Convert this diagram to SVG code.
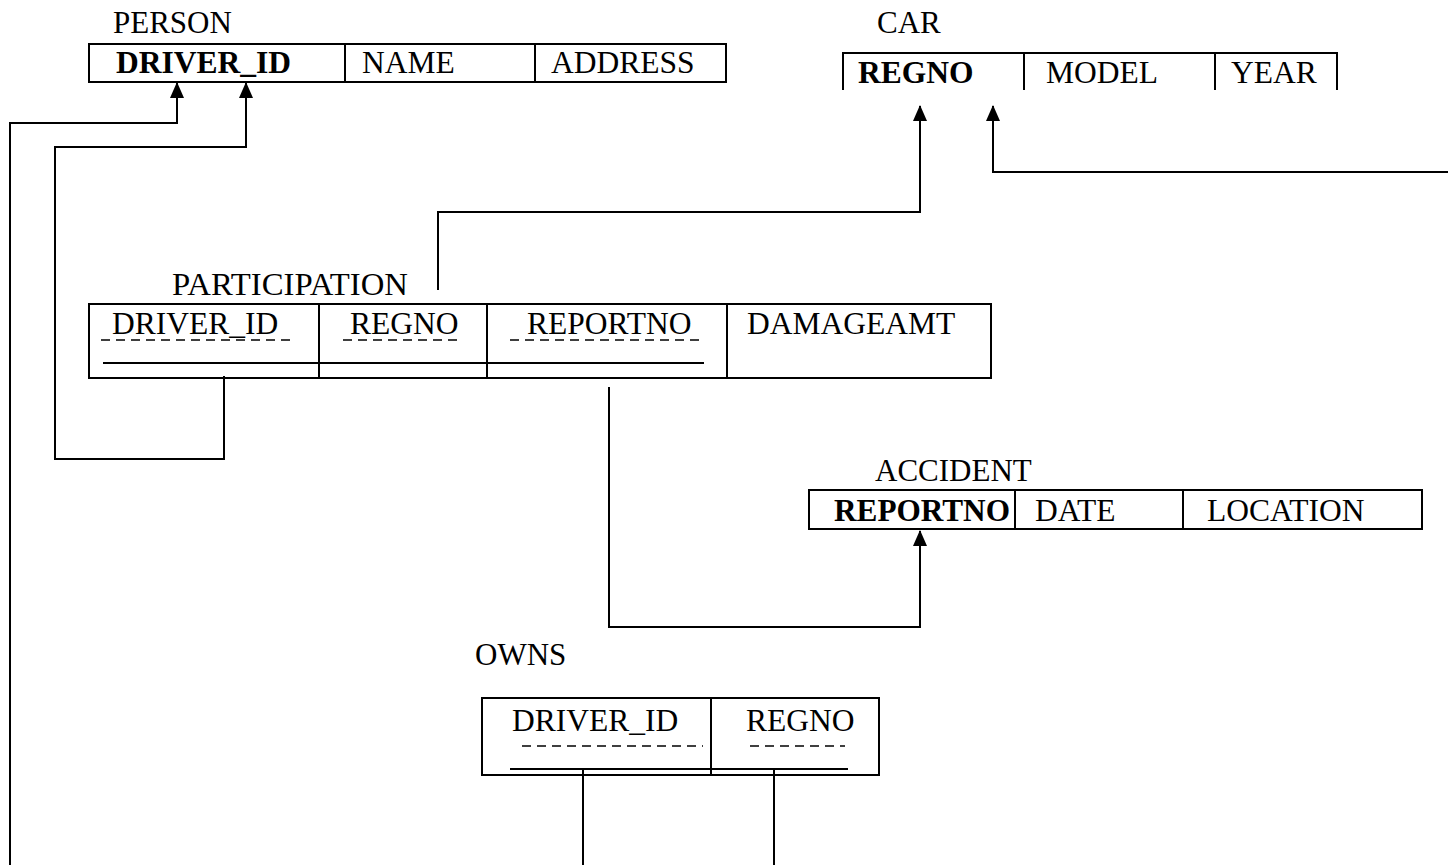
<svg xmlns="http://www.w3.org/2000/svg" width="1448" height="865" viewBox="0 0 1448 865">
<defs>
<marker id="arr" viewBox="0 0 16 14" refX="15" refY="7" markerWidth="16" markerHeight="14" markerUnits="userSpaceOnUse" orient="auto">
<path d="M0,0 L16,7 L0,14 Z" fill="#000"/>
</marker>
</defs>
<style>
text{font-family:"Liberation Serif","Times New Roman",serif;font-size:31.5px;fill:#000}
.lbl{font-size:31px}
.b{font-weight:bold;font-size:31.5px}
.box{fill:none;stroke:#000;stroke-width:2}
.ln{fill:none;stroke:#000;stroke-width:2}
.dash{fill:none;stroke:#000;stroke-width:1.5;stroke-dasharray:9,6}
.c{fill:none;stroke:#000;stroke-width:2}
</style>
<rect width="1448" height="865" fill="#fff"/>

<g id="person">
<text class="lbl" x="113" y="33">PERSON</text>
<rect class="box" x="89" y="44" width="637" height="38"/>
<line class="ln" x1="345" y1="44" x2="345" y2="82"/>
<line class="ln" x1="535" y1="44" x2="535" y2="82"/>
<text class="b" x="116" y="73">DRIVER_ID</text>
<text x="362" y="73">NAME</text>
<text x="551" y="73">ADDRESS</text>
</g>

<g id="car">
<text class="lbl" x="877" y="33">CAR</text>
<path class="ln" d="M843,90 V53 H1337 V90"/>
<line class="ln" x1="1024" y1="53" x2="1024" y2="90"/>
<line class="ln" x1="1215" y1="53" x2="1215" y2="90"/>
<text class="b" x="858" y="83">REGNO</text>
<text x="1046" y="83">MODEL</text>
<text x="1231" y="83">YEAR</text>
</g>

<g id="participation">
<text class="lbl" x="172" y="295" textLength="236" lengthAdjust="spacingAndGlyphs">PARTICIPATION</text>
<rect class="box" x="89" y="304" width="902" height="74"/>
<line class="ln" x1="319" y1="304" x2="319" y2="378"/>
<line class="ln" x1="487" y1="304" x2="487" y2="378"/>
<line class="ln" x1="727" y1="304" x2="727" y2="378"/>
<text x="112" y="334">DRIVER_ID</text>
<text x="350" y="334">REGNO</text>
<text x="527" y="334">REPORTNO</text>
<text x="747" y="334">DAMAGEAMT</text>
<line class="dash" x1="101" y1="340" x2="296" y2="340"/>
<line class="dash" x1="343" y1="340" x2="463" y2="340"/>
<line class="dash" x1="510" y1="340" x2="705" y2="340"/>
<line class="ln" x1="103" y1="363" x2="704" y2="363"/>
</g>

<g id="accident">
<text class="lbl" x="875" y="481">ACCIDENT</text>
<rect class="box" x="809" y="490" width="613" height="39"/>
<line class="ln" x1="1015" y1="490" x2="1015" y2="529"/>
<line class="ln" x1="1183" y1="490" x2="1183" y2="529"/>
<text class="b" x="834" y="521" textLength="176" lengthAdjust="spacingAndGlyphs">REPORTNO</text>
<text x="1035" y="521">DATE</text>
<text x="1207" y="521">LOCATION</text>
</g>

<g id="owns">
<text class="lbl" x="475" y="665">OWNS</text>
<rect class="box" x="482" y="698" width="397" height="77"/>
<line class="ln" x1="711" y1="698" x2="711" y2="775"/>
<text x="512" y="731">DRIVER_ID</text>
<text x="746" y="731">REGNO</text>
<line class="dash" x1="522" y1="746" x2="703" y2="746"/>
<line class="dash" x1="750" y1="746" x2="845" y2="746"/>
<line class="ln" x1="510" y1="769" x2="848" y2="769"/>
</g>

<g id="connectors">
<path class="c" d="M10,865 V123 H177 V83" marker-end="url(#arr)"/>
<path class="c" d="M224,376 V459 H55 V147 H246 V83" marker-end="url(#arr)"/>
<path class="c" d="M438,290 V212 H920 V106" marker-end="url(#arr)"/>
<path class="c" d="M1448,172 H993 V106" marker-end="url(#arr)"/>
<path class="c" d="M609,387 V627 H920 V531" marker-end="url(#arr)"/>
<line class="c" x1="583" y1="770" x2="583" y2="865"/>
<line class="c" x1="774" y1="770" x2="774" y2="865"/>
</g>
</svg>
